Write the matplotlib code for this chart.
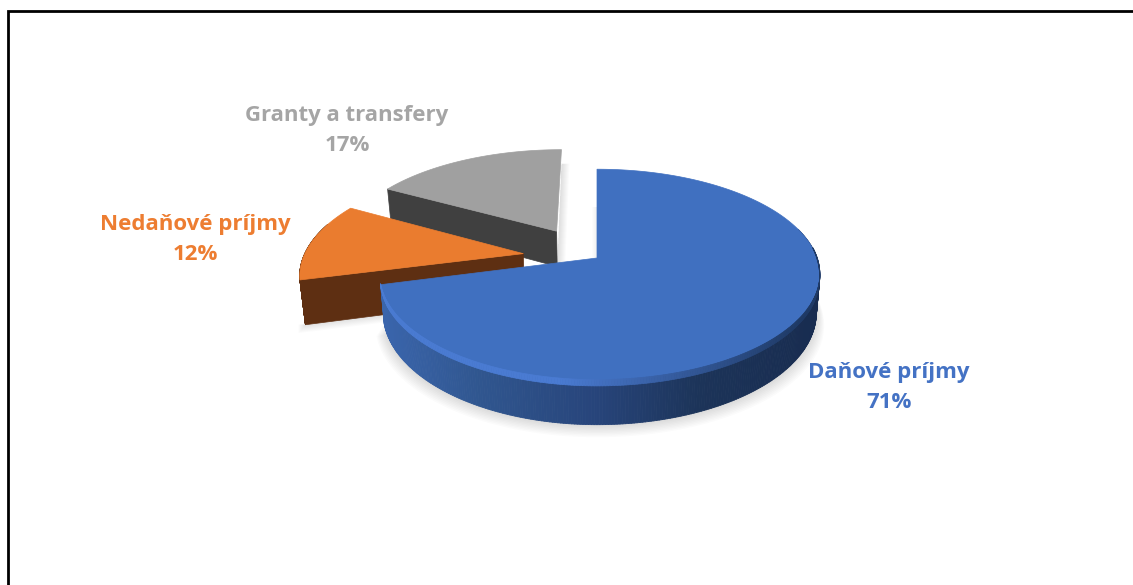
import numpy as np
import matplotlib.pyplot as plt
from matplotlib.collections import PolyCollection
from matplotlib.colors import to_rgb

# Slices, clockwise from 12 o'clock
labels = ['Daňové príjmy', 'Nedaňové príjmy', 'Granty a transfery']
values = [71, 12, 17]

text_colors = ['#4472c4', '#ed7d31', '#a5a5a5']
top_colors = ['#4070c0', '#ea7c2f', '#a0a0a0']
wall_colors = [None, '#5e2f12', '#404040']
explode = [0, 0.34, 0.34]
nudge = [(0, 0), (0, 0), (-4, 2)]
heights = [1, 1.17, 1]
label_pos = [(889, 387.5), (195, 239.5), (347, 130.5)]

# Perspective of the pie
cx, cy = 597, 258
rx, ry = 220, 103
k = 0.16
wall = 37


def project(X, Y, z=0):
    w = 1 + k * np.asarray(Y)
    sx = cx + rx * np.asarray(X) / w * (1 - 0.016 * z)
    sy = cy - ry * np.asarray(Y) / w + wall * z / w
    return sx, sy


def mix(c1, c2, t):
    return tuple(a + (b - a) * t for a, b in zip(to_rgb(c1), to_rgb(c2)))


def blue_shade(x):
    # side of the big slice goes darker to the right
    stops = [383, 480, 600, 700, 820]
    cols = ['#3a65ac', '#30568f', '#27447a', '#1c3459', '#182c50']
    rgb = np.array([to_rgb(c) for c in cols])
    return tuple(np.interp(x, stops, rgb[:, i]) for i in range(3))


fig = plt.figure(figsize=(11.33, 5.85), dpi=100)
ax = fig.add_axes([0, 0, 1, 1])
ax.set_xlim(0, 1133)
ax.set_ylim(585, 0)
ax.axis('off')

# frame of the pasted image
ax.plot([8, 8, 1133], [585, 11, 11], color='black', lw=2, solid_joinstyle='miter')

fracs = np.array(values) / sum(values)
starts = np.concatenate([[0], np.cumsum(fracs)[:-1]]) * 2 * np.pi
ends = np.cumsum(fracs) * 2 * np.pi

# far slices first
for i in [2, 1, 0]:
    t = np.linspace(starts[i], ends[i], 400)
    mid = (starts[i] + ends[i]) / 2
    ox, oy = explode[i] * np.sin(mid), explode[i] * np.cos(mid)
    X, Y = ox + np.sin(t), oy + np.cos(t)
    if i == 0:
        # the left end of the big slice sits a little closer in
        X = np.where(X < 0, X * 0.975, X)
    h = heights[i]
    dx, dy = nudge[i]
    top_x, top_y = project(X, Y, 0)
    bot_x, bot_y = project(X, Y, h)
    tip_x, tip_y = project(ox, oy, 0)
    tipb_x, tipb_y = project(ox, oy, h)
    top_x, bot_x, tip_x, tipb_x = top_x + dx, bot_x + dx, tip_x + dx, tipb_x + dx
    top_y, bot_y, tip_y, tipb_y = top_y + dy, bot_y + dy, tip_y + dy, tipb_y + dy

    # soft shadows
    if i == 0:
        near = np.cos(t) < 0.3
        for s in range(9, 0, -1):
            sx = cx + (bot_x[near] - cx) * (1 + s * 0.004)
            sy = bot_y[near] + s * 1.4
            ax.fill(sx, sy, color='black', alpha=0.014, lw=0)
        # thin shadow left of the vertical edge
        for s in range(5, 0, -1):
            ax.fill([597 - s, 597, 597, 597 - s], [207, 207, 258, 258], color='black', alpha=0.012, lw=0)
    elif i == 1:
        for s in range(7, 0, -1):
            ax.fill([bot_x[0] - s, tipb_x, tipb_x, bot_x[0] - s],
                    [bot_y[0], tipb_y, tipb_y + s * 1.2, bot_y[0] + s * 1.2],
                    color='black', alpha=0.016, lw=0)
    else:
        for s in range(8, 0, -1):
            ax.fill([top_x[-1], top_x[-1] + s, tipb_x + s, tipb_x],
                    [top_y[-1] + 14, top_y[-1] + 14, tipb_y, tipb_y],
                    color='black', alpha=0.014, lw=0)

    # outer wall as thin strips
    polys = []
    cols = []
    for j in range(len(t) - 1):
        if np.cos(t[j]) > 0.3:
            continue
        polys.append([(top_x[j], top_y[j]), (top_x[j + 1], top_y[j + 1]),
                      (bot_x[j + 1], bot_y[j + 1]), (bot_x[j], bot_y[j])])
        cols.append(blue_shade(top_x[j]) if i == 0 else wall_colors[i])
    if polys:
        ax.add_collection(PolyCollection(polys, facecolors=cols, edgecolors=cols, linewidths=0.6))

    # cut face towards the viewer
    if i > 0:
        ax.fill([tip_x, top_x[0], bot_x[0], tipb_x],
                [tip_y, top_y[0], bot_y[0], tipb_y],
                color=wall_colors[i], lw=0.5)

    # top face
    ax.fill(np.r_[tip_x, top_x], np.r_[tip_y, top_y], color=top_colors[i], lw=0.5)

    # bevel on the rim of the big slice, fades out on the right
    if i == 0:
        band = []
        band_cols = []
        for j in np.where(np.cos(t) < 0.1)[0][:-1]:
            fade = np.clip((0.1 - np.cos(t[j])) / 0.5, 0, 1)
            bx, by = project(X[j], Y[j], 0.12 * fade)
            bx2, by2 = project(X[j + 1], Y[j + 1], 0.12 * fade)
            band.append([(top_x[j], top_y[j] - 1), (top_x[j + 1], top_y[j + 1] - 1), (bx2, by2), (bx, by)])
            band_cols.append(mix('#4a7bd2', '#1f3a66', np.clip((top_x[j] - 560) / 240, 0, 1)))
        ax.add_collection(PolyCollection(band, facecolors=band_cols, edgecolors=band_cols, linewidths=0.5))

for name, val, col, (lx, ly) in zip(labels, values, text_colors, label_pos):
    ax.text(lx, ly, f'{name}\n{val}%', color=col, fontsize=16, fontweight='bold',
            family=['Open Sans', 'DejaVu Sans'], ha='center', va='center', linespacing=1.55)

fig.savefig('out.png', dpi=100)
